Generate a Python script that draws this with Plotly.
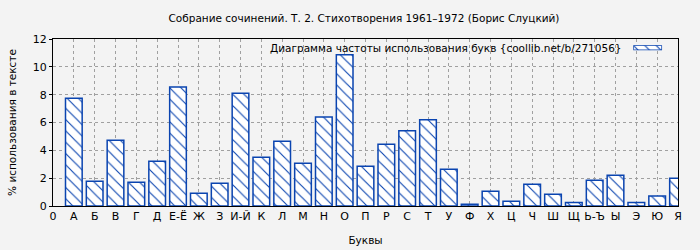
import plotly.graph_objects as go

tick_labels = ["0", "А", "Б", "В", "Г", "Д", "Е-Ё", "Ж", "З", "И-Й", "К", "Л", "М", "Н",
               "О", "П", "Р", "С", "Т", "У", "Ф", "Х", "Ц", "Ч", "Ш", "Щ", "Ь-Ъ", "Ы",
               "Э", "Ю", "Я"]
letters = tick_labels[1:]
values = [7.75, 1.78, 4.73, 1.71, 3.22, 8.55, 0.91, 1.63, 8.11, 3.50, 4.66, 3.07, 6.39,
          10.87, 2.86, 4.44, 5.40, 6.19, 2.64, 0.13, 1.06, 0.34, 1.56, 0.84, 0.26, 1.85,
          2.21, 0.26, 0.72, 1.99]
positions = list(range(1, len(letters) + 1))

title = "Собрание сочинений. Т. 2. Стихотворения 1961–1972 (Борис Слуцкий)"
legend_text = "Диаграмма частоты использования букв {coollib.net/b/271056}"
x_title = "Буквы"
y_title = "% использования в тексте"

blue = "#0a44b0"
bg = "#f3f3f3"
font = "DejaVu Sans"
pattern = dict(shape="\\", fgcolor=blue, bgcolor="white", size=8, solidity=0.14, fgopacity=1)

fig = go.Figure()
fig.add_trace(go.Bar(
    x=positions, y=values, width=0.8, customdata=letters,
    marker=dict(color="white", line=dict(color=blue, width=1.5), pattern=pattern),
    showlegend=False, cliponaxis=True,
))
# legend key drawn as a small bar on an overlay axis
fig.add_trace(go.Bar(
    x=[1], y=[0], orientation="h", width=1,
    marker=dict(color="white", line=dict(color=blue, width=1.5), pattern=pattern),
    xaxis="x2", yaxis="y2", showlegend=False, hoverinfo="skip",
))

fig.update_layout(
    width=700, height=250,
    margin=dict(l=53, r=22, t=39, b=44),
    paper_bgcolor=bg, plot_bgcolor=bg,
    font=dict(family=font, size=10.5, color="black"),
    title=dict(text=title, x=0.52, xanchor="center", y=0.925, yanchor="middle",
               font=dict(size=10.5)),
    xaxis=dict(
        range=[0, 30], tickmode="array", tickvals=list(range(0, 31)), ticktext=tick_labels,
        showgrid=True, gridcolor="#a0a0a0", griddash="dot", gridwidth=1,
        showline=True, linecolor="black", linewidth=1, mirror=True,
        ticks="", zeroline=False, automargin=False,
        title=dict(text=x_title, standoff=14, font=dict(size=10.5)), tickfont=dict(size=11),
    ),
    yaxis=dict(
        range=[0, 12], tickvals=[0, 2, 4, 6, 8, 10, 12],
        showgrid=True, gridcolor="#a0a0a0", griddash="dot", gridwidth=1,
        showline=True, linecolor="black", linewidth=1, mirror=True,
        ticks="outside", ticklen=3, tickcolor="black", zeroline=False, automargin=False,
        title=dict(text=y_title, standoff=14, font=dict(size=10.5)), tickfont=dict(size=11),
    ),
    xaxis2=dict(domain=[0.9285, 0.9745], range=[0, 1], visible=False, anchor="y2",
                fixedrange=True),
    yaxis2=dict(domain=[0.933, 0.962], range=[-0.5, 0.5], visible=False, anchor="x2",
                fixedrange=True),
    annotations=[dict(text=legend_text, xref="paper", yref="paper", x=0.913, y=0.945,
                      xanchor="right", yanchor="middle", showarrow=False,
                      font=dict(size=10.5))],
)

fig.write_html("out.html")
